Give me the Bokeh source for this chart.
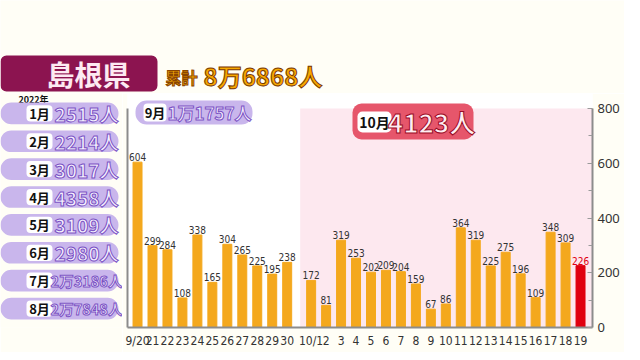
from bokeh.plotting import figure
from bokeh.models import (Range1d, LinearAxis, FixedTicker, BoxAnnotation, Label,
                          ColumnDataSource)
from bokeh.layouts import column, row
from bokeh.core.properties import value
from bokeh.embed import file_html
from bokeh.resources import INLINE

# ---------------- data ----------------
prefecture = "島根県"
cumulative_label = "累計"
cumulative_total = "8万6868人"
year_label = "2022年"
months = ["1月", "2月", "3月", "4月", "5月", "6月", "7月", "8月"]
month_totals = ["2515人", "2214人", "3017人", "4358人", "3109人", "2980人", "2万3186人", "2万7848人"]
sep_month = "9月"
sep_total = "1万1757人"
oct_month = "10月"
oct_total = "4123人"

sep_days = ["9/20", "21", "22", "23", "24", "25", "26", "27", "28", "29", "30"]
sep_vals = [604, 299, 284, 108, 338, 165, 304, 265, 225, 195, 238]
oct_days = ["10/1", "2", "3", "4", "5", "6", "7", "8", "9", "10", "11", "12", "13", "14",
            "15", "16", "17", "18", "19"]
oct_vals = [172, 81, 319, 253, 202, 209, 204, 159, 67, 86, 364, 319, 225, 275, 196, 109,
            348, 309, 226]
y_ticks = [0, 200, 400, 600, 800]
y_minor = [100, 300, 500, 700]

# ---------------- layout constants (page pixels) ----------------
TOTAL_W, TOTAL_H = 624, 352
TOP_H = 93           # title strip height
LEFT_W = 122         # monthly panel width
FL, FR, FB = 127, 592, 327   # chart frame left / right / bottom (page px)
Y_AT_TOP = 800 * (FB - TOP_H) / (FB - 108)   # 800 sits at page y=108
GAP = 0.6
ORANGE = "#f4a81d"
RED = "#e00010"
LAV = "#c9b6ec"
BG = "#fffef6"
CJK = "Noto Sans CJK JP"
NUM = "DejaVu Sans Condensed"


class Canvas:
    def __init__(self, fig, ox, oy, units):
        self.fig, self.ox, self.oy, self.units = fig, ox, oy, units

    def box(self, x0, x1, y0, y1, color, radius=0, level="annotation"):
        u = self.units
        self.fig.add_layout(BoxAnnotation(
            left=x0 - self.ox, right=x1 - self.ox, top=self.oy - y0, bottom=self.oy - y1,
            left_units=u, right_units=u, top_units=u, bottom_units=u,
            fill_color=color, fill_alpha=1, line_color=None, line_alpha=0,
            border_radius=radius, level=level))

    def label(self, text, px, py, size, color, align="center", font=CJK, outline=None,
              style="bold"):
        kw = dict(text=text, x=px - self.ox, y=self.oy - py, x_units=self.units,
                  y_units=self.units, text_font_size=f"{size}px", text_color=color,
                  text_align=align, text_baseline="middle", text_font=font,
                  text_font_style=style)
        if outline:
            kw["text_outline_color"] = outline
        self.fig.add_layout(Label(**kw))


def deco_figure(w, h):
    f = figure(width=w, height=h, output_backend="svg", toolbar_location=None,
               x_range=Range1d(0, w), y_range=Range1d(0, h),
               x_axis_type=None, y_axis_type=None, min_border=0)
    f.border_fill_color = BG
    f.background_fill_color = BG
    f.outline_line_color = None
    f.grid.visible = False
    return f


# ---------------- title strip ----------------
top = deco_figure(TOTAL_W, TOP_H)
tc = Canvas(top, 0, TOP_H, "data")
tc.box(0, 157, 55, 91, "#8c1450", radius=6)
tc.label(prefecture, 88, 73, 28, "#fdeaf2")
tc.label(cumulative_label, 165, 76, 16, "#f8a800", align="left", outline="#8a4500")
tc.label(cumulative_total, 203, 75, 24, "#f8a800", align="left", outline="#7a3800")

# ---------------- monthly panel ----------------
LOW_H = TOTAL_H - TOP_H
left = deco_figure(LEFT_W, LOW_H)
lc = Canvas(left, 0, TOTAL_H, "data")
lc.label(year_label, 33, 100, 9, "#111111")
for i, (m, t) in enumerate(zip(months, month_totals)):
    c = 115 + 30.86 * i
    lc.box(0, 118, c - 12, c + 12, LAV, radius=11)
    lc.box(26, 52, c - 9, c + 9, "white", radius=4)
    lc.label(m, 39, c, 13, "#111111")
    size = 19 if len(t) <= 5 else 14.5
    lc.label(t, 86, c, size, "#f6f1ff", outline="#7b52c4")

# ---------------- chart ----------------
x_sep = [float(i) for i in range(len(sep_days))]
x_oct = [round(len(sep_days) + GAP + j, 2) for j in range(len(oct_days))]
xs = x_sep + x_oct
vals = sep_vals + oct_vals
days = sep_days + oct_days
colors = [ORANGE] * (len(vals) - 1) + [RED]
lab_colors = ["#333333"] * (len(vals) - 1) + [RED]
src = ColumnDataSource(dict(x=xs, top=vals, txt=[str(v) for v in vals],
                            color=colors, lc=lab_colors))

CW = TOTAL_W - LEFT_W
p = figure(width=CW, height=LOW_H, output_backend="svg", toolbar_location=None,
           x_range=Range1d(-0.67, x_oct[-1] + 0.8), y_range=Range1d(0, Y_AT_TOP),
           y_axis_location="right",
           min_border_left=FL - LEFT_W, min_border_right=TOTAL_W - FR,
           min_border_top=0, min_border_bottom=TOTAL_H - FB)
p.border_fill_color = BG
p.background_fill_color = "white"
p.outline_line_color = None
p.grid.visible = False

p.add_layout(BoxAnnotation(left=x_oct[0] - 0.73, top=800, fill_color="#fde8ef",
                           fill_alpha=1, line_color=None, level="underlay"))

p.vbar(x="x", top="top", width=0.6, color="color", source=src)
p.text(x="x", y="top", text="txt", text_color="lc", source=src, y_offset=-1,
       text_align="center", text_baseline="bottom", text_font_size="10px",
       text_font=value(NUM))

xa = p.xaxis[0]
xa.ticker = FixedTicker(ticks=xs)
xa.major_label_overrides = {x: d for x, d in zip(xs, days)}
xa.major_tick_line_color = None
xa.minor_tick_line_color = None
xa.axis_line_color = "#8c8c8c"
xa.axis_line_width = 2
xa.major_label_standoff = 0
xa.major_label_text_font = NUM
xa.major_label_text_font_size = "12px"
xa.major_label_text_color = "#333333"

ya = p.yaxis[0]
ya.ticker = FixedTicker(ticks=y_ticks, minor_ticks=y_minor)
ya.bounds = (0, 800)
ya.axis_line_color = "#8c8c8c"
ya.axis_line_width = 2
ya.major_tick_in = 5
ya.major_tick_out = 0
ya.minor_tick_in = 4
ya.minor_tick_out = 0
ya.major_tick_line_color = "#9a9a9a"
ya.minor_tick_line_color = "#9a9a9a"
ya.major_label_standoff = 5
ya.major_label_text_font = "Noto Sans"
ya.major_label_text_font_size = "13px"
ya.major_label_text_color = "#333333"

left_axis = LinearAxis(ticker=FixedTicker(ticks=[]), bounds=(0, 800),
                       major_tick_line_color=None, minor_tick_line_color=None,
                       major_tick_in=0, major_tick_out=0, major_label_standoff=0,
                       major_label_text_font_size="0px", axis_line_color="#8c8c8c",
                       axis_line_width=2)
p.add_layout(left_axis, "left")

cc = Canvas(p, FL, FB, "screen")
# September box
cc.box(135, 252, 100, 124, LAV, radius=11)
cc.box(143, 166, 103, 121, "white", radius=4)
cc.label(sep_month, 154.5, 112, 13, "#111111")
cc.label(sep_total, 209, 112, 17, "#f3edff", outline="#7b52c4")
# October box
cc.box(352, 473, 103, 139, "#e6566b", radius=9)
cc.box(357, 391, 111, 132, "white", radius=5)
cc.label(oct_month, 374, 121.5, 14, "#111111")
cc.label(oct_total, 431, 121, 26, "#ffeef2", outline="#9a0a25")

layout = column(top, row(left, p, spacing=0), spacing=0)
open("out.html", "w").write(file_html(layout, INLINE))
